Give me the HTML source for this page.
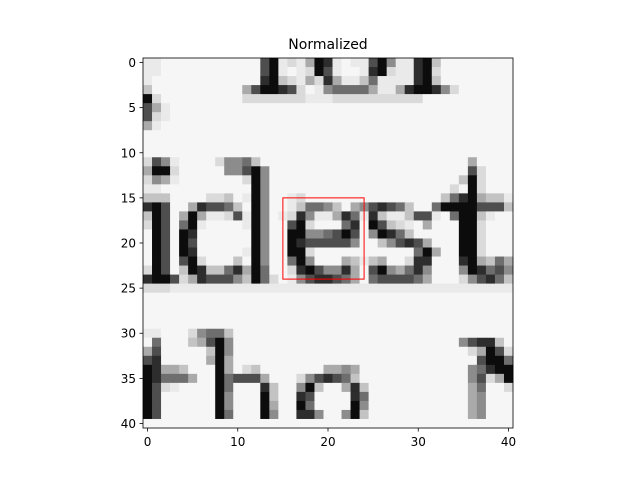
<!DOCTYPE html>
<html><head><meta charset="utf-8"><style>
html,body{margin:0;padding:0;background:#fff;}
svg text{font-family:"DejaVu Sans","Liberation Sans",sans-serif;}
</style></head><body>
<svg id="chart" width="640" height="480" xmlns="http://www.w3.org/2000/svg">
<text x="328" y="49" text-anchor="middle" font-size="14">Normalized</text>
<g id="cells"></g>
<g id="ticks"></g>
</svg>
<script>
const nRows = 41;
const nCols = 41;
const xTicks = [0,10,20,30,40];
const yTicks = [0,5,10,15,20,25,30,35,40];
const boxX = [15,24];
const boxY = [15,24];
const rowData = [
"0:1,1:1,13:7,14:9,15:1,16:2,17:1,18:4,19:9,20:8,21:1,23:1,24:1,25:7,26:9,27:5,28:1,29:1,30:8,31:9,32:3",
"0:1,1:1,13:7,14:9,15:1,17:1,18:2,19:9,20:7,21:1,24:1,25:8,26:9,27:2,28:1,29:1,30:8,31:9,32:2",
"0:1,13:8,14:9,15:3,16:2,17:1,18:4,19:2,20:8,21:4,22:1,23:1,24:3,25:6,26:1,27:1,28:1,29:1,30:8,31:9,32:3",
"0:3,11:4,12:7,13:9,14:9,15:8,16:7,17:2,19:1,20:5,21:6,22:6,23:6,24:6,25:4,26:1,27:1,28:4,29:8,30:9,31:9,32:8,33:5,34:2",
"0:9,1:2,11:2,12:2,13:2,14:2,15:2,16:2,17:2,18:1,19:1,20:1,21:2,22:2,23:2,24:2,25:2,26:2,27:2,28:2,29:2,30:2",
"0:7,1:4,2:1",
"0:7,1:2,2:1",
"0:4,1:1",
"",
"",
"",
"0:2,1:7,2:5,3:1,8:2,9:5,10:5,11:6,12:3,36:4",
"0:4,1:9,2:9,3:2,9:5,10:5,11:7,12:9,13:5,36:7,37:2",
"0:2,1:5,2:4,3:1,11:2,12:9,13:5,35:3,36:9,37:2",
"0:1,1:1,12:9,13:5,34:2,36:9,37:2",
"0:3,1:3,2:3,7:2,8:2,9:3,11:1,12:9,13:5,16:1,17:2,33:3,34:6,35:8,36:9,37:4,38:3,39:3,40:1",
"0:8,1:9,2:7,5:4,6:8,7:7,8:7,9:6,10:3,12:9,13:5,16:1,17:3,18:6,19:6,20:5,21:3,23:4,24:5,25:7,26:8,27:7,28:6,29:3,32:6,33:9,34:9,35:9,36:9,37:7,38:7,39:7,40:3",
"0:3,1:9,2:7,4:4,5:9,6:4,7:1,8:1,9:2,10:7,11:1,12:9,13:5,15:1,16:2,17:8,18:5,19:1,20:1,21:4,22:8,23:6,24:1,25:8,26:3,27:1,28:1,29:3,30:7,31:7,32:1,34:6,35:9,36:9,37:3,38:1",
"0:2,1:9,2:7,4:6,5:9,6:1,11:1,12:9,13:5,16:7,17:9,18:2,22:6,23:8,25:9,26:7,27:3,28:2,29:1,31:4,35:9,36:9,37:2",
"1:9,2:7,4:9,5:8,12:9,13:5,16:9,17:9,18:5,19:5,20:6,21:7,22:9,23:7,25:5,26:9,27:8,28:6,29:3,35:9,36:9,37:2",
"1:9,2:7,4:9,5:7,12:9,13:5,16:9,17:8,18:7,19:7,20:7,21:7,22:7,23:5,26:3,27:5,28:7,29:8,30:7,31:4,35:9,36:9,37:2",
"1:9,2:7,4:9,5:8,11:1,12:9,13:5,16:9,17:9,18:2,30:6,31:9,32:4,35:9,36:9,37:2",
"1:9,2:7,4:7,5:9,6:2,10:3,12:9,13:5,16:6,17:9,18:5,22:4,23:3,24:1,25:3,26:4,29:2,30:8,31:8,35:8,36:9,37:4,38:3,39:6,40:4",
"0:2,1:9,2:7,4:3,5:9,6:8,7:3,8:3,9:6,10:8,11:4,12:9,13:6,16:2,17:8,18:9,19:7,20:5,21:5,22:8,23:4,25:7,26:9,27:5,28:4,29:6,30:8,31:5,35:5,36:9,37:8,38:6,39:7,40:5",
"0:8,1:9,2:9,3:7,4:2,5:4,6:8,7:7,8:7,9:7,10:5,11:3,12:9,13:6,14:2,16:1,17:5,18:7,19:8,20:8,21:7,22:6,23:4,25:6,26:7,27:7,28:7,29:7,30:6,31:4,35:2,36:5,37:7,38:8,39:6,40:3",
"0:2,1:2,2:2,3:1,4:1,5:1,6:1,7:1,8:1,9:1,10:1,11:1,12:1,13:1,14:1,15:1,16:1,17:1,18:1,19:1,20:1,21:1,22:1,23:1,24:1,25:1,26:1,27:1,28:1,29:1,30:1,31:1,32:1,33:1,34:1,35:1,36:1,37:1,38:1,39:1,40:1",
"",
"",
"",
"",
"0:1,1:1,5:2,6:5,7:6,8:6,9:3",
"1:6,5:3,6:4,7:7,8:9,9:5,35:5,36:7,37:8,38:8,39:3",
"0:4,1:7,7:3,8:9,9:5,36:2,37:4,38:9,39:7,40:2",
"0:7,1:8,7:4,8:9,9:4,37:7,38:9,39:9,40:6",
"0:9,1:8,2:4,3:4,4:3,8:9,9:4,11:2,12:3,20:4,21:4,22:5,23:4,36:5,37:6,38:8,39:9,40:9",
"0:9,1:8,2:6,3:6,4:6,5:4,8:9,9:6,10:7,11:7,12:7,13:4,17:2,18:5,19:7,20:8,21:7,22:6,23:3,36:5,37:7,38:2,39:4,40:9",
"0:9,1:7,2:2,3:1,8:9,9:6,13:8,14:3,17:5,18:9,19:3,22:4,23:8,24:3,36:4,37:6,40:2",
"0:9,1:7,8:9,9:5,13:9,14:3,17:8,18:7,23:8,24:6,36:4,37:5",
"0:9,1:7,8:9,9:5,13:9,14:4,17:9,18:6,23:9,24:5,36:4,37:5",
"0:9,1:7,8:9,9:6,13:9,14:5,17:8,18:8,19:5,22:5,23:9,24:3,36:4,37:5"
];
const NS="http://www.w3.org/2000/svg";
const L=143,T=58,W=370,H=370;
const cw=W/nCols, ch=H/nRows;
const grayLUT=[246,234,218,195,170,140,110,78,45,12];
function xEdge(c){return L+c*cw;}
function yEdge(r){return T+r*ch;}
function xData(v){return L+(v+0.5)*cw;}
function yData(v){return T+(v+0.5)*ch;}
function shade(l){const g=grayLUT[l];return `rgb(${g},${g},${g})`;}
const cells=document.getElementById('cells');
for(let r=0;r<nRows;r++){
  const lv=new Array(nCols).fill(0);
  (rowData[r]||"").split(",").filter(s=>s).forEach(p=>{const [c,v]=p.split(":").map(Number);lv[c]=v;});
  for(let c=0;c<nCols;c++){
    const rc=document.createElementNS(NS,'rect');
    rc.setAttribute('x',xEdge(c));rc.setAttribute('y',yEdge(r));
    rc.setAttribute('width',cw+0.4);rc.setAttribute('height',ch+0.4);
    rc.setAttribute('fill',shade(lv[c]));
    
    
    cells.appendChild(rc);
  }
}
const box=document.createElementNS(NS,'rect');
box.setAttribute('x',xData(boxX[0]));box.setAttribute('y',yData(boxY[0]));
box.setAttribute('width',xData(boxX[1])-xData(boxX[0]));box.setAttribute('height',yData(boxY[1])-yData(boxY[0]));
box.setAttribute('fill','none');box.setAttribute('stroke','#ff0000');box.setAttribute('stroke-width','1');


document.getElementById('chart').appendChild(box);
const frame=document.createElementNS(NS,'rect');
frame.setAttribute('x',L);frame.setAttribute('y',T);frame.setAttribute('width',W);frame.setAttribute('height',H);
frame.setAttribute('fill','none');frame.setAttribute('stroke','#000');frame.setAttribute('stroke-width','0.8');


document.getElementById('chart').appendChild(frame);
const tk=document.getElementById('ticks');
xTicks.forEach(v=>{
  const x=xData(v);
  const ln=document.createElementNS(NS,'line');
  ln.setAttribute('x1',x);ln.setAttribute('x2',x);ln.setAttribute('y1',T+H);ln.setAttribute('y2',T+H+3.5);
  ln.setAttribute('stroke','#000');ln.setAttribute('stroke-width','0.8');
  
  
  tk.appendChild(ln);
  const t=document.createElementNS(NS,'text');
  t.setAttribute('x',x);t.setAttribute('y',T+H+18);t.setAttribute('text-anchor','middle');t.setAttribute('font-size','12');
  t.textContent=v;
  
  
  tk.appendChild(t);
});
yTicks.forEach(v=>{
  const y=yData(v);
  const ln=document.createElementNS(NS,'line');
  ln.setAttribute('x1',L-3.5);ln.setAttribute('x2',L);ln.setAttribute('y1',y);ln.setAttribute('y2',y);
  ln.setAttribute('stroke','#000');ln.setAttribute('stroke-width','0.8');
  
  
  tk.appendChild(ln);
  const t=document.createElementNS(NS,'text');
  t.setAttribute('x',L-7);t.setAttribute('y',y+4.5);t.setAttribute('text-anchor','end');t.setAttribute('font-size','12');
  t.textContent=v;
  
  
  tk.appendChild(t);
});
</script>
</body></html>
